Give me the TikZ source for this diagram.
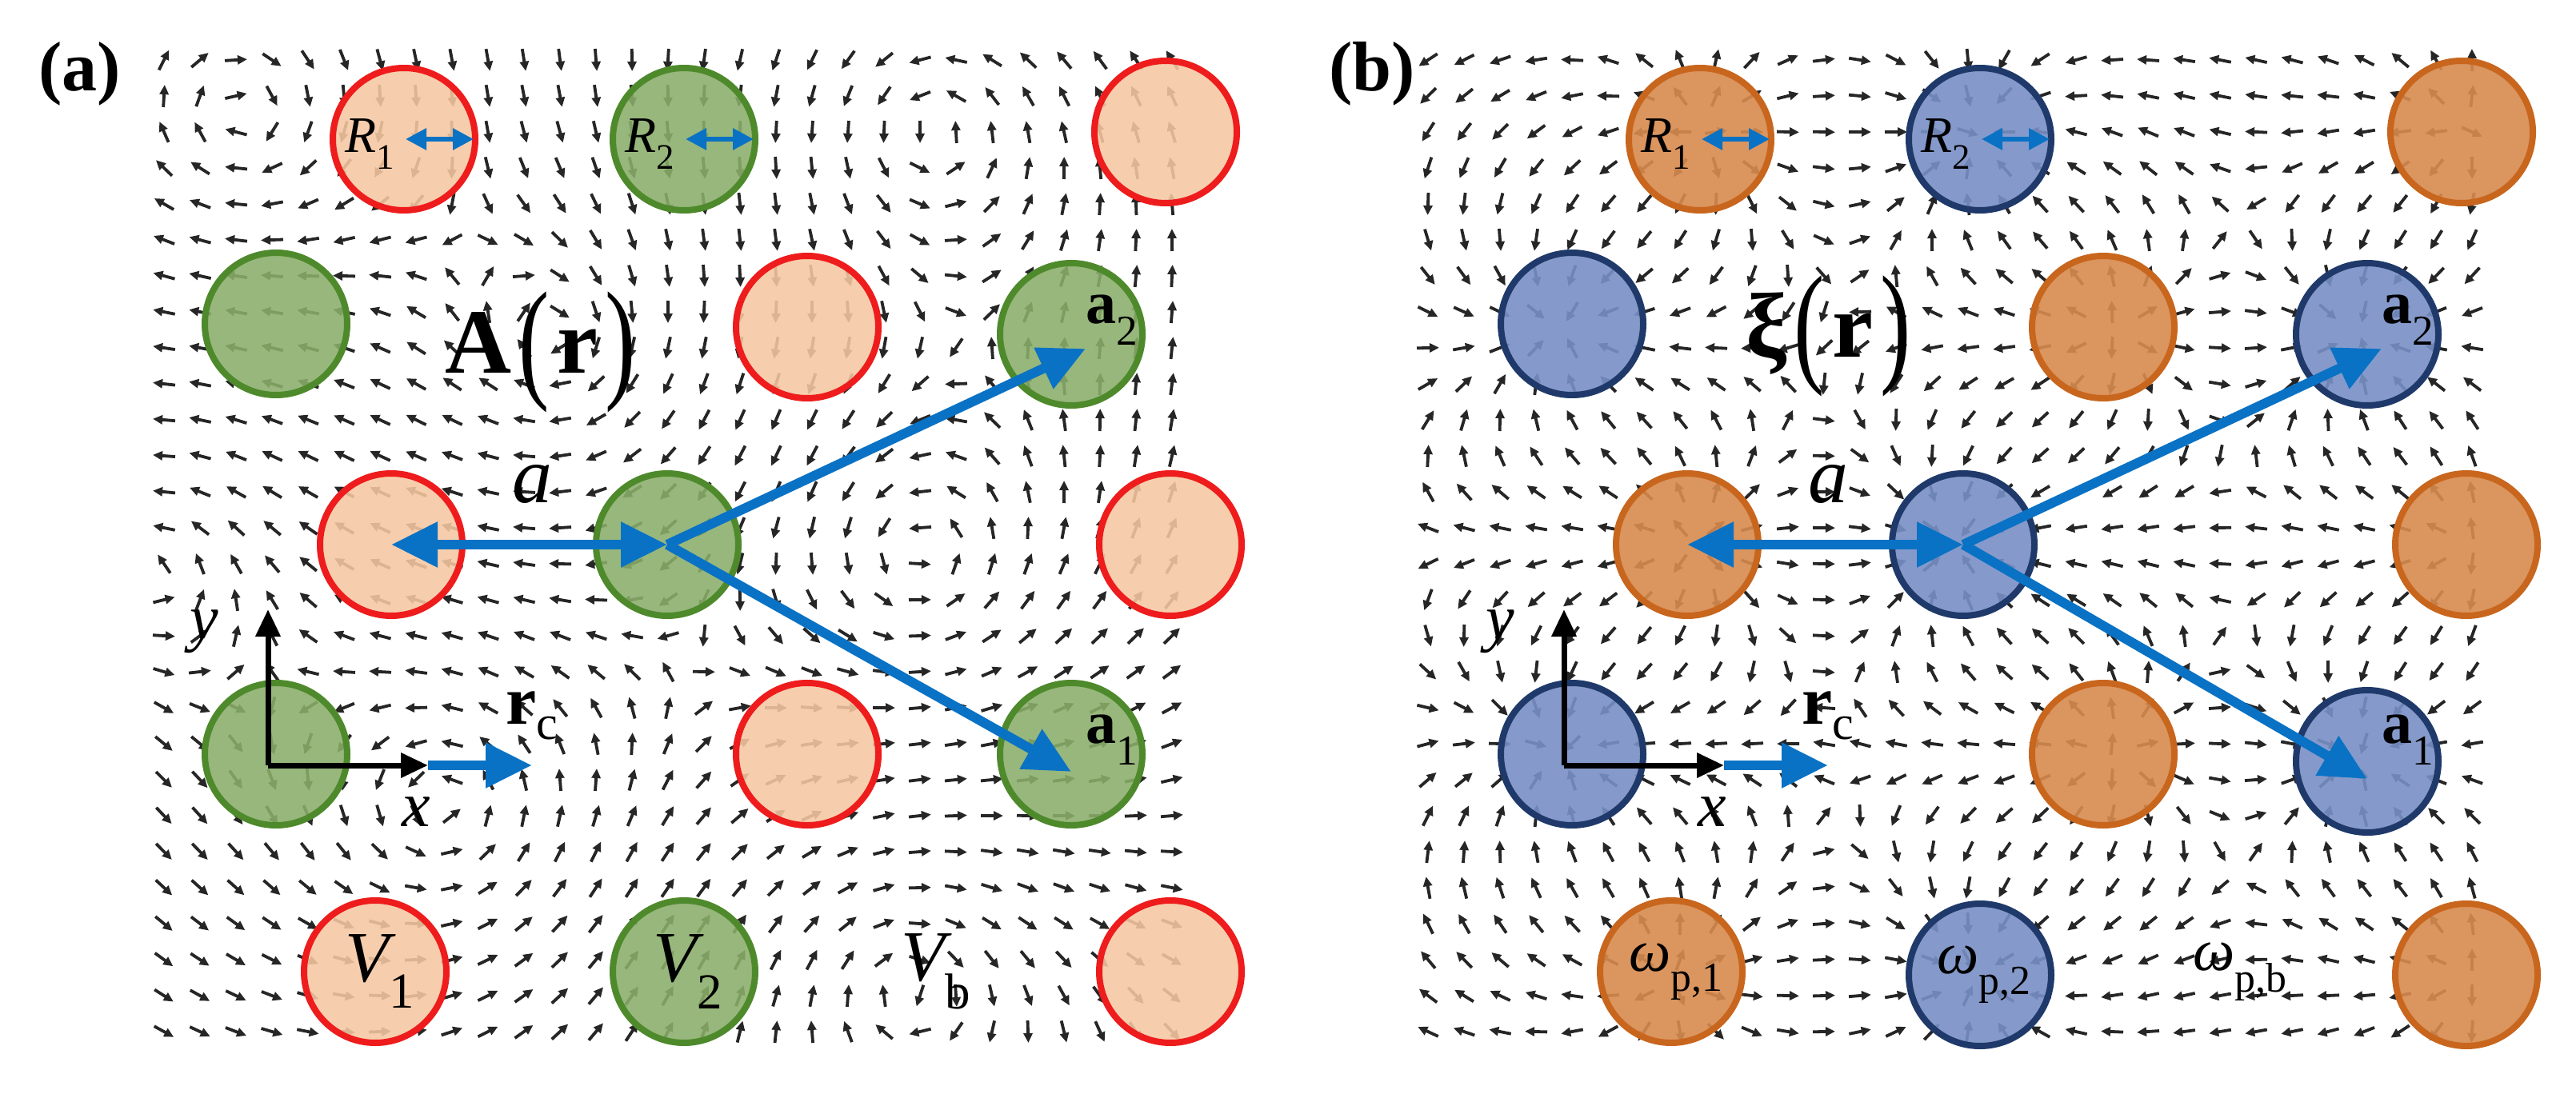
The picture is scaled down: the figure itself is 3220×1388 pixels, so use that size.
\documentclass[tikz,border=0pt]{standalone}
\usepackage{fontspec}
\setmainfont{Liberation Serif}
\newfontfamily\tms{Liberation Serif}
\usetikzlibrary{arrows.meta}
\definecolor{bl}{HTML}{0A72C4}
\definecolor{redE}{HTML}{EE1C1C}
\definecolor{peach}{HTML}{F7C8A2}
\definecolor{grF}{HTML}{8AAE6A}
\definecolor{grE}{HTML}{4E8A2C}
\definecolor{orF}{HTML}{D88A4E}
\definecolor{orE}{HTML}{C8661E}
\definecolor{buF}{HTML}{7890C6}
\definecolor{buE}{HTML}{1F3A6A}
\newcommand\fs[1]{\tms\fontsize{#1}{#1}\selectfont}
\newcommand\bigp[1]{\kern0.08em\scalebox{1}[1.45]{\raisebox{-0.08em}{\fontseries{m}\selectfont#1}}\kern0.08em}
\tikzset{
 fa/.style={-{Triangle[length=12pt,width=11pt]},line width=3.8pt,black!85},
 cc/.style={circle,minimum size=178pt,inner sep=0pt,line width=8pt},
 redc/.style={cc,draw=redE,fill=peach,fill opacity=0.88},
 grc/.style={cc,draw=grE,fill=grF,fill opacity=0.88},
 orc/.style={cc,draw=orE,fill=orF,fill opacity=0.9},
 buc/.style={cc,draw=buE,fill=buF,fill opacity=0.9},
 bA/.style={bl,line width=12pt,-{Triangle[length=58pt,width=54pt]}},
 bAA/.style={bl,line width=12pt,{Triangle[length=58pt,width=54pt]}-{Triangle[length=58pt,width=54pt]}},
 sA/.style={bl,line width=6pt,{Triangle[length=26pt,width=26pt]}-{Triangle[length=26pt,width=26pt]}},
 kA/.style={black,line width=7pt,-{Triangle[length=34pt,width=30pt]}},
 lab/.style={inner sep=0pt,text opacity=1},
}
\begin{document}
\begin{tikzpicture}[x=1pt,y=-1pt]
\useasboundingbox[fill=white] (0,0) rectangle (3220,1388);
% ---------- field (a): vortices ----------
\foreach \gx in {2.05,2.5,...,14.7}{
 \foreach \gy in {0.75,1.2,...,13.1}{
  \gdef\vx{0}\gdef\vy{0}
  \foreach \cx/\cy/\s in {7.0/4.3/1,11.5/7.0/-1,5.6/10.1/-1,11.3/12.3/1,11.6/1.6/-1,1.9/7.0/-1,3.0/1.5/1}{
    \pgfmathsetmacro\dx{\gx-\cx}\pgfmathsetmacro\dy{\gy-\cy}
    \pgfmathsetmacro\rr{\dx*\dx+\dy*\dy+0.4}
    \pgfmathsetmacro\tx{\vx-\s*\dy/\rr}\pgfmathsetmacro\ty{\vy+\s*\dx/\rr}
    \xdef\vx{\tx}\xdef\vy{\ty}}
  \pgfmathsetmacro\m{sqrt(\vx*\vx+\vy*\vy)+0.0001}
  \pgfmathsetmacro\ux{14*\vx/\m}\pgfmathsetmacro\uy{14*\vy/\m}
  \draw[fa] ({\gx*100-\ux},{\gy*100-\uy}) -- ({\gx*100+\ux},{\gy*100+\uy});
 }}
% ---------- field (b): sources ----------
\foreach \gx in {17.85,18.3,...,30.9}{
 \foreach \gy in {0.75,1.2,...,13.1}{
  \gdef\vx{0}\gdef\vy{0}
  \foreach \cx/\cy/\s in {21.25/1.74/1,24.75/1.74/-1,30.77/1.65/1,19.65/4.05/-1,26.29/4.09/1,29.59/4.18/-1,21.09/6.81/1,24.54/6.81/-1,30.83/6.81/1,19.65/9.43/-1,26.29/9.43/1,29.59/9.43/-1,20.89/12.15/1,24.75/12.15/-1,30.83/12.15/1}{
    \pgfmathsetmacro\dx{\gx-\cx}\pgfmathsetmacro\dy{\gy-\cy}
    \pgfmathsetmacro\rr{\dx*\dx+\dy*\dy+0.4}
    \pgfmathsetmacro\tx{\vx+\s*\dx/\rr}\pgfmathsetmacro\ty{\vy+\s*\dy/\rr}
    \xdef\vx{\tx}\xdef\vy{\ty}}
  \pgfmathsetmacro\m{sqrt(\vx*\vx+\vy*\vy)+0.0001}
  \pgfmathsetmacro\ux{14*\vx/\m}\pgfmathsetmacro\uy{14*\vy/\m}
  \draw[fa] ({\gx*100-\ux},{\gy*100-\uy}) -- ({\gx*100+\ux},{\gy*100+\uy});
 }}
% ---------- circles (a) ----------
\node[redc] (a11) at (505,174) {};
\node[grc]  (a12) at (855,174) {};
\node[redc] (a13) at (1457,165) {};
\node[grc]  (a21) at (345,405) {};
\node[redc] (a22) at (1009,409) {};
\node[grc]  (a23) at (1339,418) {};
\node[redc] (a31) at (489,681) {};
\node[grc]  (a32) at (834,681) {};
\node[redc] (a33) at (1463,681) {};
\node[grc]  (a41) at (345,943) {};
\node[redc] (a42) at (1009,943) {};
\node[grc]  (a43) at (1339,943) {};
\node[redc] (a51) at (469,1215) {};
\node[grc]  (a52) at (855,1215) {};
\node[redc] (a53) at (1463,1215) {};
% ---------- circles (b) ----------
\node[orc] (b11) at (2125,174) {};
\node[buc] (b12) at (2475,174) {};
\node[orc] (b13) at (3077,165) {};
\node[buc] (b21) at (1965,405) {};
\node[orc] (b22) at (2629,409) {};
\node[buc] (b23) at (2959,418) {};
\node[orc] (b31) at (2109,681) {};
\node[buc] (b32) at (2454,681) {};
\node[orc] (b33) at (3083,681) {};
\node[buc] (b41) at (1965,943) {};
\node[orc] (b42) at (2629,943) {};
\node[buc] (b43) at (2959,952) {};
\node[orc] (b51) at (2089,1215) {};
\node[buc] (b52) at (2475,1219) {};
\node[orc] (b53) at (3083,1219) {};
% ---------- panel labels ----------
\node[lab] (pa) at (100,92) {\fs{88}\bfseries (a)};
\node[lab] (pb) at (1715,92) {\fs{88}\bfseries (b)};
\node[lab] (Ar) at (680,440) {\fs{115}\bfseries A\bigp{(}r\bigp{)}};
\node[lab] (Xr) at (2290,420) {\fs{115}\bfseries ξ\bigp{(}r\bigp{)}};
% ---------- labels ----------
\node[lab] (r1a) at (462,180) {\fs{64}\itshape R\textsubscript{\upshape 1}};
\node[lab] (r2a) at (812,180) {\fs{64}\itshape R\textsubscript{\upshape 2}};
\draw[sA] ([xshift=2]a11.center) -- ([xshift=-6]a11.east);
\draw[sA] ([xshift=2]a12.center) -- ([xshift=-6]a12.east);
\node[lab] (r1b) at (2082,180) {\fs{64}\itshape R\textsubscript{\upshape 1}};
\node[lab] (r2b) at (2432,180) {\fs{64}\itshape R\textsubscript{\upshape 2}};
\draw[sA] ([xshift=2]b11.center) -- ([xshift=-6]b11.east);
\draw[sA] ([xshift=2]b12.center) -- ([xshift=-6]b12.east);
\node[lab] (v1) at (475,1215) {\fs{90}\itshape V\textsubscript{\upshape 1}};
\node[lab] (v2) at (860,1215) {\fs{90}\itshape V\textsubscript{\upshape 2}};
\node[lab] (vb) at (1170,1215) {\fs{90}\itshape V\textsubscript{\upshape b}};
\node[lab] (w1) at (2095,1215) {\fs{74}\itshape ω\textsubscript{\upshape p,1}};
\node[lab] (w2) at (2480,1219) {\fs{74}\itshape ω\textsubscript{\upshape p,2}};
\node[lab] (wb) at (2800,1215) {\fs{74}\itshape ω\textsubscript{\upshape p,b}};
% ---------- vectors ----------
\foreach \p/\o in {a/0,b/1620}{
  \draw[bAA] (\p31.center) -- (\p32.center);
  \draw[bA] (\p32.center) -- ([shift={(18,18)}]\p23.center);
  \draw[bA] (\p32.center) -- ([shift={(0,22)}]\p43.center);
  \node[lab] (al\p) at (\o+665,605) {\fs{100}\itshape a};
  \node[lab] (aa2\p) at (\o+1390,400) {\fs{76}\bfseries a\textsubscript{\mdseries 2}};
  \node[lab] (aa1\p) at (\o+1390,925) {\fs{76}\bfseries a\textsubscript{\mdseries 1}};
  \coordinate (O\p) at (\o+335,957);
  \coordinate (Y\p) at (\o+335,762);
  \coordinate (X\p) at (\o+535,957);
  \coordinate (C\p) at (\o+665,957);
  \draw[bA] (X\p) -- (C\p);
  \draw[kA] (O\p) -- (Y\p);
  \draw[kA] (O\p) -- (X\p);
  \node[lab] (yl\p) at (\o+255,790) {\fs{80}\itshape y};
  \node[lab] (xl\p) at (\o+520,1015) {\fs{80}\itshape x};
  \node[lab] (rc\p) at (\o+665,895) {\fs{86}\bfseries r\textsubscript{\mdseries c}};
}
\end{tikzpicture}
\end{document}
